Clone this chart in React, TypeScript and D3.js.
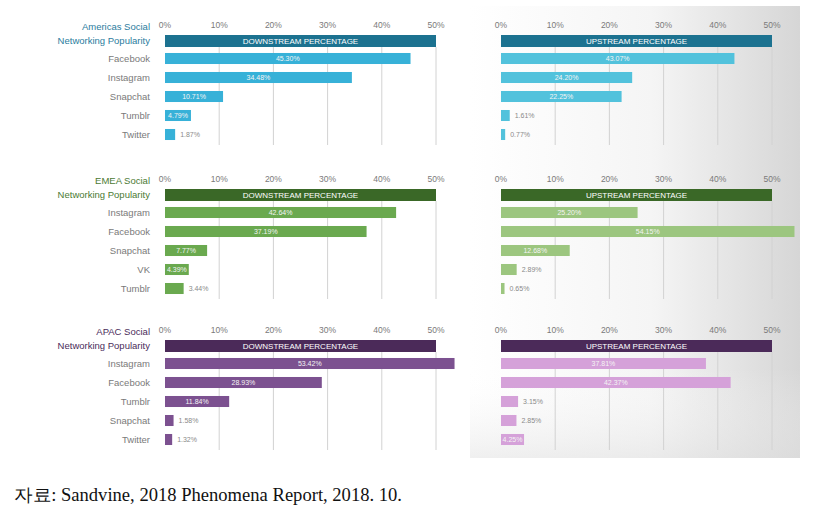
import React from "react";
import * as d3 from "d3";

const ticks = [0, 10, 20, 30, 40, 50];

const amCats = ["Facebook", "Instagram", "Snapchat", "Tumblr", "Twitter"];
const amDown = [45.3, 34.48, 10.71, 4.79, 1.87];
const amUp = [43.07, 24.2, 22.25, 1.61, 0.77];

const emCats = ["Instagram", "Facebook", "Snapchat", "VK", "Tumblr"];
const emDown = [42.64, 37.19, 7.77, 4.39, 3.44];
const emUp = [25.2, 54.15, 12.68, 2.89, 0.65];

const apCats = ["Instagram", "Facebook", "Tumblr", "Snapchat", "Twitter"];
const apDown = [53.42, 28.93, 11.84, 1.58, 1.32];
const apUp = [37.81, 42.37, 3.15, 2.85, 4.25];

const titles = ["Americas Social", "EMEA Social", "APAC Social"];
const subtitle = "Networking Popularity";
const downLabel = "DOWNSTREAM PERCENTAGE";
const upLabel = "UPSTREAM PERCENTAGE";
const source = "자료: Sandvine, 2018 Phenomena Report, 2018. 10.";

const palettes = [
  { title: "#2b7c9e", header: "#1c7290", down: "#37b1d8", up: "#52c2dc" },
  { title: "#4b7a33", header: "#3a6827", down: "#6aa94f", up: "#9cc67f" },
  { title: "#4a2c5a", header: "#4b2a59", down: "#7c5190", up: "#d5a1d9" },
];

const sections = [
  { cats: amCats, down: amDown, up: amUp },
  { cats: emCats, down: emDown, up: emUp },
  { cats: apCats, down: apDown, up: apUp },
];

const W = 814;
const H = 513;
const sectionTops = [35, 189, 340];
const FONT = "'Liberation Sans', Arial, sans-serif";

function makeRows(n: number, top: number) {
  return d3
    .scaleBand<number>()
    .domain(d3.range(n))
    .range([top + 14, top + 14 + n * 19])
    .paddingInner(0.42)
    .paddingOuter(0.21);
}

function Panel({ x, values, label, color, header, top }: any) {
  const xs = d3.scaleLinear().domain([0, 50]).range(x);
  const rowY = makeRows(values.length, top);
  const gridBottom = top + 14 + values.length * 19 + 1;
  return (
    <g>
      {ticks.map((t) => (
        <text
          key={"t" + t}
          x={xs(t)}
          y={top - 7}
          textAnchor="middle"
          fontSize={8.5}
          fill="#7a7a7a"
          fontFamily={FONT}
        >
          {t}%
        </text>
      ))}
      {ticks.slice(1).map((t) => (
        <line
          key={"g" + t}
          x1={xs(t)}
          x2={xs(t)}
          y1={top + 12}
          y2={gridBottom}
          stroke="#d2d2d2"
          strokeWidth={1}
        />
      ))}
      <rect x={xs(0)} y={top} width={xs(50) - xs(0)} height={12} fill={header} />
      <text
        x={(xs(0) + xs(50)) / 2}
        y={top + 9}
        textAnchor="middle"
        fontSize={8}
        fill="#ffffff"
        fontFamily={FONT}
      >
        {label}
      </text>
      {values.map((v: number, i: number) => {
        const y0 = rowY(i)!;
        const bh = rowY.bandwidth();
        const w = xs(v) - xs(0);
        const inside = v >= 4;
        return (
          <g key={i}>
            <rect x={xs(0)} y={y0} width={w} height={bh} fill={color} />
            <text
              x={inside ? xs(0) + w / 2 : xs(v) + 5}
              y={y0 + bh / 2 + 2.5}
              textAnchor={inside ? "middle" : "start"}
              fontSize={7}
              fill={inside ? "#f4f4f4" : "#8a8a8a"}
              fontFamily={FONT}
            >
              {v.toFixed(2)}%
            </text>
          </g>
        );
      })}
    </g>
  );
}

export default function App() {
  return (
    <svg
      width={W}
      height={H}
      style={{ position: "absolute", left: 0, top: 0, background: "#ffffff" }}
    >
      <defs>
        <linearGradient id="bg" x1="0" x2="1" y1="0" y2="0">
          <stop offset="0" stopColor="#ffffff" />
          <stop offset="0.55" stopColor="#f5f5f5" />
          <stop offset="1" stopColor="#d6d6d6" />
        </linearGradient>
        <linearGradient id="bgv" x1="0" x2="0" y1="0" y2="1">
          <stop offset="0" stopColor="#ffffff" stopOpacity={0} />
          <stop offset="0.8" stopColor="#ffffff" stopOpacity={0} />
          <stop offset="1" stopColor="#e0e0e0" stopOpacity={0.5} />
        </linearGradient>
      </defs>
      <rect x={0} y={0} width={W} height={H} fill="#ffffff" />
      <rect x={470} y={6} width={330} height={452} fill="url(#bg)" />
      <rect x={470} y={6} width={330} height={452} fill="url(#bgv)" />
      {sections.map((s, k) => {
        const top = sectionTops[k];
        const pal = palettes[k];
        const rowY = makeRows(s.cats.length, top);
        return (
          <g key={k}>
            <text
              x={150}
              y={top - 5}
              textAnchor="end"
              fontSize={9.5}
              fill={pal.title}
              fontFamily={FONT}
            >
              {titles[k]}
            </text>
            <text
              x={150}
              y={top + 9}
              textAnchor="end"
              fontSize={9.5}
              fill={pal.title}
              fontFamily={FONT}
            >
              {subtitle}
            </text>
            {s.cats.map((c, i) => (
              <text
                key={c}
                x={150}
                y={rowY(i)! + rowY.bandwidth() / 2 + 3.3}
                textAnchor="end"
                fontSize={9.5}
                fill="#7a7a7a"
                fontFamily={FONT}
              >
                {c}
              </text>
            ))}
            <Panel
              x={[165, 436]}
              values={s.down}
              label={downLabel}
              color={pal.down}
              header={pal.header}
              top={top}
            />
            <Panel
              x={[501, 772]}
              values={s.up}
              label={upLabel}
              color={pal.up}
              header={pal.header}
              top={top}
            />
          </g>
        );
      })}
      <text
        x={14}
        y={501}
        fontSize={18}
        fill="#111"
        fontFamily="'Liberation Serif', 'DejaVu Serif', serif"
        textLength={388}
        lengthAdjust="spacingAndGlyphs"
      >
        {source}
      </text>
    </svg>
  );
}
